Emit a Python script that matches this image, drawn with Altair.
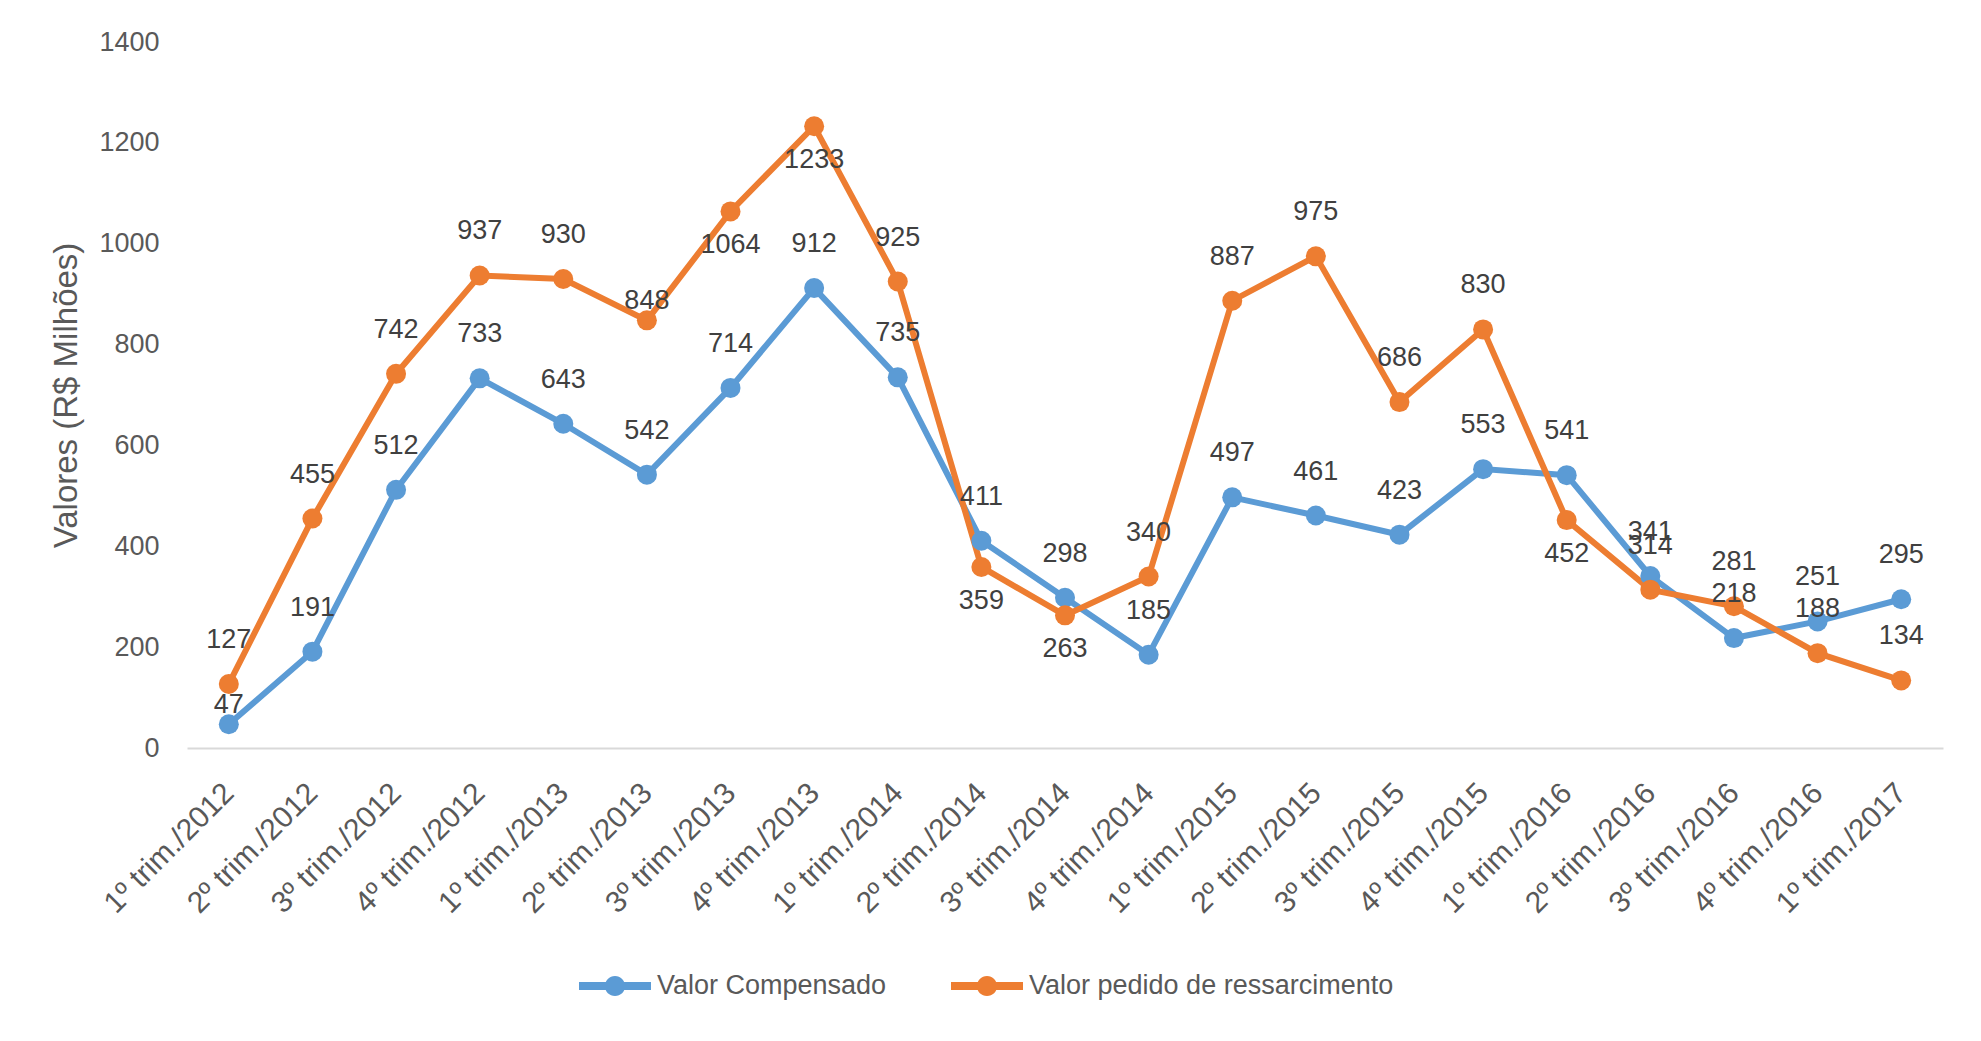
import altair as alt
import pandas as pd

trimestres = ["1º trim./2012", "2º trim./2012", "3º trim./2012", "4º trim./2012",
              "1º trim./2013", "2º trim./2013", "3º trim./2013", "4º trim./2013",
              "1º trim./2014", "2º trim./2014", "3º trim./2014", "4º trim./2014",
              "1º trim./2015", "2º trim./2015", "3º trim./2015", "4º trim./2015",
              "1º trim./2016", "2º trim./2016", "3º trim./2016", "4º trim./2016",
              "1º trim./2017"]
valor_compensado = [47, 191, 512, 733, 643, 542, 714, 912, 735, 411, 298, 185,
                    497, 461, 423, 553, 541, 341, 218, 251, 295]
valor_ressarcimento = [127, 455, 742, 937, 930, 848, 1064, 1233, 925, 359, 263, 340,
                       887, 975, 686, 830, 452, 314, 281, 188, 134]
# where each data label sits relative to its point
rotulo_compensado = ["perto"] + ["acima"] * 20
rotulo_ressarcimento = ["acima", "acima", "acima", "acima", "acima", "perto", "abaixo",
                        "abaixo", "acima", "abaixo", "abaixo", "acima", "acima", "acima",
                        "acima", "acima", "abaixo", "acima", "acima", "acima", "acima"]

series = ["Valor Compensado", "Valor pedido de ressarcimento"]
cores = ["#5B9BD5", "#ED7D31"]

rows = []
for s, vals, pos in [(series[0], valor_compensado, rotulo_compensado),
                     (series[1], valor_ressarcimento, rotulo_ressarcimento)]:
    for t, v, p in zip(trimestres, vals, pos):
        rows.append({"trim": t, "serie": s, "valor": v, "pos": p})
df = pd.DataFrame(rows)

FONT = "Liberation Sans"
GREY = "#595959"

x = alt.X("trim:N", sort=trimestres, title=None,
          axis=alt.Axis(labelAngle=-45, labelAlign="right", labelBaseline="middle",
                        labelPadding=40, labelFontSize=30, labelColor=GREY, labelFont=FONT,
                        ticks=False, domainColor="#D9D9D9", domainWidth=2, grid=False))
y = alt.Y("valor:Q", title="Valores (R$ Milhões)",
          scale=alt.Scale(domain=[0, 1400], nice=False),
          axis=alt.Axis(values=[0, 200, 400, 600, 800, 1000, 1200, 1400], format="d",
                        grid=False, domain=False, ticks=False, labelPadding=28,
                        labelFontSize=27, labelColor=GREY, labelFont=FONT,
                        titleFontSize=33, titleFontWeight="normal", titleColor=GREY,
                        titleFont=FONT, titleX=-121, titleY=353, titleAlign="center",
                        titleBaseline="middle"))
color_scale = alt.Scale(domain=series, range=cores)

path = ("M-1,-0.11L1,-0.11L1,0.11L-1,0.11Z "
        "M-0.28,0A0.28,0.28 0 1,1 0.28,0A0.28,0.28 0 1,1 -0.28,0Z")
legenda = alt.Legend(title=None, orient="none", direction="horizontal",
                     legendX=392, legendY=908,
                     symbolType=path, symbolSize=5184, symbolStrokeWidth=0,
                     symbolOpacity=1,
                     labelFontSize=27, labelFont=FONT, labelColor=GREY,
                     labelOffset=6, columnPadding=64, labelLimit=600)

base = alt.Chart(df)

lines = base.mark_line(strokeWidth=6).encode(
    x=x, y=y,
    color=alt.Color("serie:N", scale=color_scale, sort=series, legend=legenda))

points = base.mark_point(filled=True, size=400, opacity=1).encode(
    x=x, y=y,
    color=alt.Color("serie:N", scale=color_scale, sort=series, legend=legenda))

def rotulos(pos, dy):
    return base.transform_filter(alt.datum.pos == pos).mark_text(
        fontSize=27, font=FONT, color="#404040", dy=dy, baseline="middle"
    ).encode(x=x, y=y, text="valor:Q")

chart = alt.layer(
    lines, points,
    rotulos("acima", -44), rotulos("abaixo", 34), rotulos("perto", -19)
).properties(
    width=1756, height=706,
    background="white",
    autosize=alt.AutoSizeParams(type="none"),
    padding={"left": 179, "top": 34, "right": 30, "bottom": 280}
).configure_view(strokeWidth=0)

chart.save("out.html", embed_options={"renderer": "svg", "actions": False})
